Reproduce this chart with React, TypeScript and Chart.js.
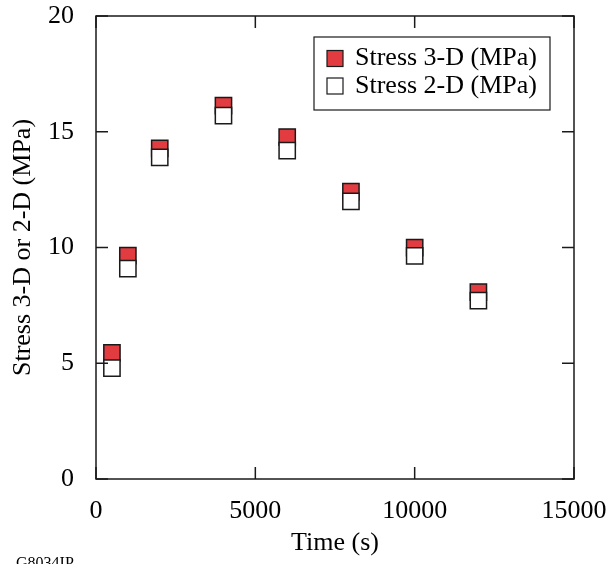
import React, { useEffect, useRef } from "react";
import { Chart, registerables } from "chart.js";

Chart.register(...registerables);

const timeValues = [500, 1000, 2000, 4000, 6000, 8000, 10000, 12000];
const stress3D = [5.45, 9.65, 14.28, 16.13, 14.77, 12.41, 9.99, 8.07];
const stress2D = [4.79, 9.09, 13.89, 15.7, 14.18, 11.99, 9.64, 7.71];
const xTicks = [0, 5000, 10000, 15000];
const yTicks = [0, 5, 10, 15, 20];
const seriesLabels = ["Stress 3-D (MPa)", "Stress 2-D (MPa)"];
const xTitle = "Time (s)";
const yTitle = "Stress 3-D or 2-D (MPa)";
const footnote = "G8034IP";

const FONT = '"Liberation Serif", "DejaVu Serif", serif';
const RED = "#e23c41";
const EDGE = "#1a1a1a";

const framePlugin = {
  id: "frameTicksLegend",
  afterDraw(chart: any) {
    const { ctx, chartArea } = chart;
    const { left, right, top, bottom } = chartArea;
    const xs = chart.scales.x;
    const ys = chart.scales.y;
    ctx.save();
    ctx.strokeStyle = EDGE;
    ctx.lineWidth = 1.5;
    ctx.strokeRect(left, top, right - left, bottom - top);
    const tl = 12;
    ctx.beginPath();
    xTicks.forEach((v) => {
      const px = xs.getPixelForValue(v);
      ctx.moveTo(px, bottom);
      ctx.lineTo(px, bottom - tl);
      ctx.moveTo(px, top);
      ctx.lineTo(px, top + tl);
    });
    yTicks.forEach((v) => {
      const py = ys.getPixelForValue(v);
      ctx.moveTo(left, py);
      ctx.lineTo(left + tl, py);
      ctx.moveTo(right, py);
      ctx.lineTo(right - tl, py);
    });
    ctx.stroke();

    // legend
    const bx = 314, by = 37, bw = 236, bh = 73;
    ctx.lineWidth = 1.2;
    ctx.strokeStyle = EDGE;
    ctx.fillStyle = "#ffffff";
    ctx.fillRect(bx, by, bw, bh);
    ctx.strokeRect(bx, by, bw, bh);
    const ds = chart.data.datasets;
    const rowsY = [58.5, 86];
    ds.forEach((d: any, i: number) => {
      const cy = rowsY[i];
      ctx.fillStyle = d.backgroundColor;
      ctx.fillRect(327, cy - 8, 16, 16);
      ctx.strokeStyle = EDGE;
      ctx.lineWidth = 1.2;
      ctx.strokeRect(327, cy - 8, 16, 16);
      ctx.fillStyle = "#000";
      ctx.font = "26px " + FONT;
      ctx.textBaseline = "middle";
      ctx.textAlign = "left";
      ctx.fillText(d.label, 355, cy);
    });

    ctx.font = "16px " + FONT;
    ctx.textBaseline = "top";
    ctx.fillStyle = "#000";
    ctx.fillText(footnote, 16, 556);
    ctx.restore();
  },
};

export default function App() {
  const ref = useRef<HTMLCanvasElement | null>(null);
  useEffect(() => {
    if (!ref.current) return;
    const chart = new Chart(ref.current, {
      type: "scatter",
      data: {
        datasets: [
          {
            label: seriesLabels[0],
            data: timeValues.map((t, i) => ({ x: t, y: stress3D[i] })),
            backgroundColor: RED,
            borderColor: EDGE,
            borderWidth: 1.5,
            pointStyle: "rect",
            pointRadius: 11.5,
            order: 1,
          },
          {
            label: seriesLabels[1],
            data: timeValues.map((t, i) => ({ x: t, y: stress2D[i] })),
            backgroundColor: "#ffffff",
            borderColor: EDGE,
            borderWidth: 1.5,
            pointStyle: "rect",
            pointRadius: 11.5,
            order: 0,
          },
        ],
      },
      options: {
        responsive: false,
        animation: false,
        devicePixelRatio: 1,
        layout: { padding: { top: 16, right: 41, left: 0, bottom: 0 } },
        plugins: { legend: { display: false }, tooltip: { enabled: false } },
        scales: {
          x: {
            type: "linear",
            min: 0,
            max: 15000,
            grid: { display: false },
            border: { display: false },
            afterFit: (s: any) => {
              s.height = 85;
              s.paddingLeft = 0;
              s.paddingRight = 0;
            },
            afterBuildTicks: (s: any) => {
              s.ticks = xTicks.map((v) => ({ value: v }));
            },
            ticks: {
              padding: 9,
              color: "#000",
              font: { family: FONT, size: 26 },
              callback: (v: any) => String(v),
              maxRotation: 0,
              autoSkip: false,
            },
            title: {
              display: true,
              text: xTitle,
              color: "#000",
              font: { family: FONT, size: 26 },
              padding: { top: 0, bottom: 5 },
            },
          },
          y: {
            type: "linear",
            min: 0,
            max: 20,
            grid: { display: false },
            border: { display: false },
            afterFit: (s: any) => {
              s.width = 96;
              s.paddingTop = 0;
              s.paddingBottom = 0;
            },
            afterBuildTicks: (s: any) => {
              s.ticks = yTicks.map((v) => ({ value: v }));
            },
            ticks: {
              padding: 14,
              color: "#000",
              font: { family: FONT, size: 26 },
              callback: (v: any) => String(v),
              autoSkip: false,
            },
            title: {
              display: true,
              text: yTitle,
              color: "#000",
              font: { family: FONT, size: 26 },
              padding: { top: 8, bottom: 0 },
            },
          },
        },
      },
      plugins: [framePlugin],
    } as any);
    return () => chart.destroy();
  }, []);
  return (
    <div style={{ position: "absolute", left: 0, top: 0, width: 615, height: 564 }}>
      <canvas ref={ref} width={615} height={564} />
    </div>
  );
}
